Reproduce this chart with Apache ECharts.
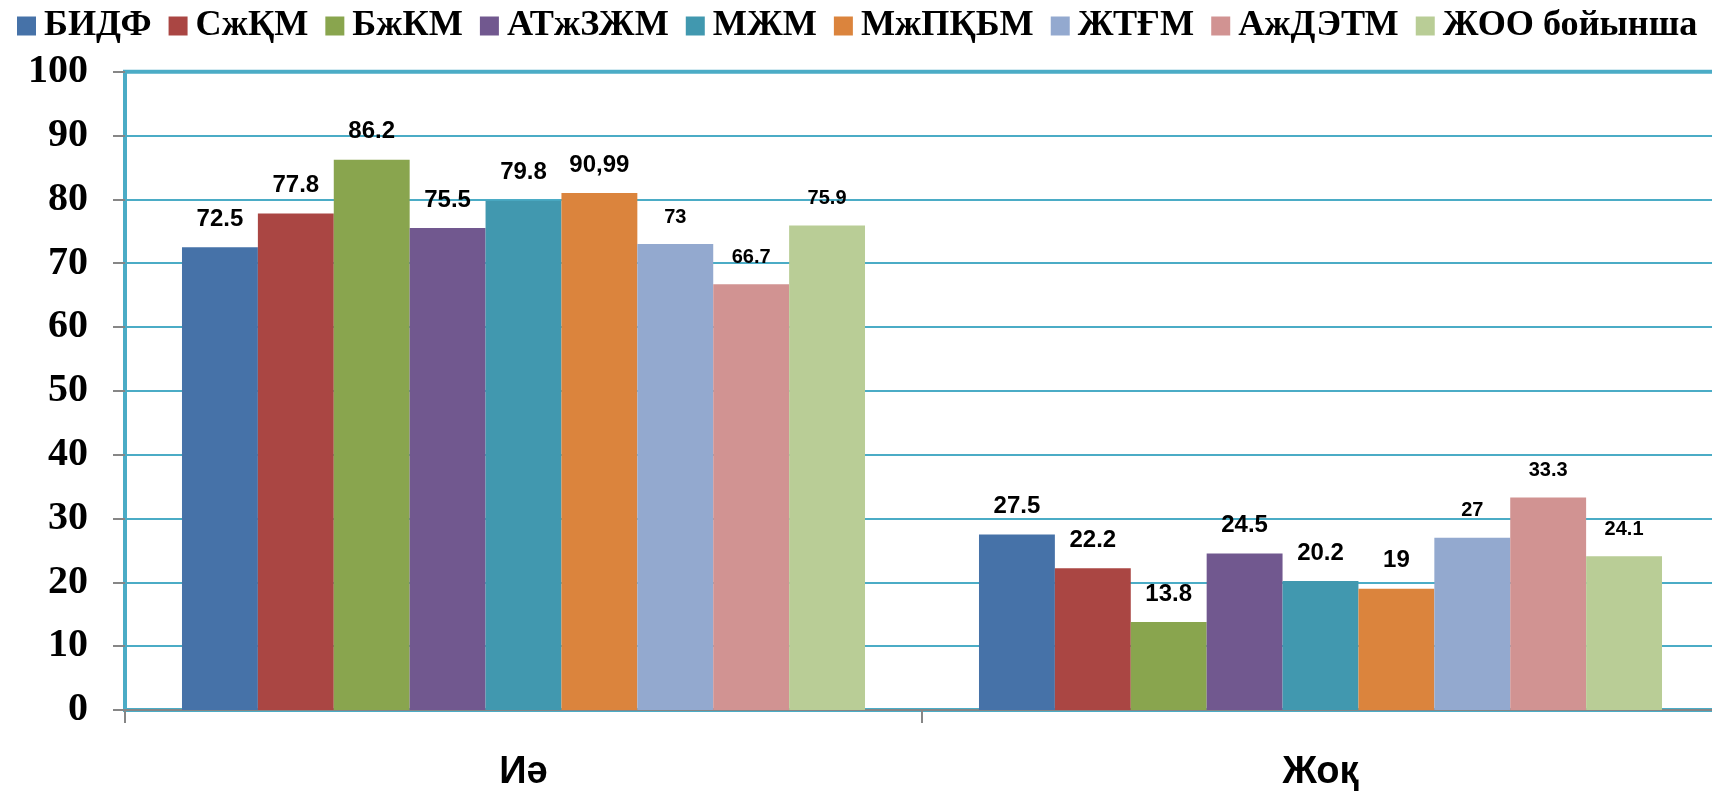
<!DOCTYPE html>
<html>
<head>
<meta charset="utf-8">
<script src="https://cdn.jsdelivr.net/npm/echarts@6/dist/echarts.min.js"></script>
<style>
html,body{margin:0;padding:0;background:#fff;}
#chart{width:1712px;height:793px;}
</style>
</head>
<body>
<div id="chart"></div>
<script>
const categories = ['Иә', 'Жоқ'];
const seriesNames = ['БИДФ', 'СжҚМ', 'БжКМ', 'АТжЗЖМ', 'МЖМ', 'МжПҚБМ', 'ЖТҒМ', 'АжДЭТМ', 'ЖОО бойынша'];
const bidf = [72.5, 27.5];
const szhkm = [77.8, 22.2];
const bzhkm = [86.2, 13.8];
const atzhzzhm = [75.5, 24.5];
const mzhm = [79.8, 20.2];
const mzhpkbm = [80.99, 19];
const zhtgm = [73, 27];
const azhdetm = [66.7, 33.3];
const zhoo = [75.9, 24.1];
const seriesValues = [bidf, szhkm, bzhkm, atzhzzhm, mzhm, mzhpkbm, zhtgm, azhdetm, zhoo];
// label text as printed on the chart
const labelTexts = [
  ['72.5', '27.5'], ['77.8', '22.2'], ['86.2', '13.8'], ['75.5', '24.5'], ['79.8', '20.2'],
  ['90,99', '19'], ['73', '27'], ['66.7', '33.3'], ['75.9', '24.1']
];
const yTicks = [0, 10, 20, 30, 40, 50, 60, 70, 80, 90, 100];

const colors = ['#4672A8', '#AA4643', '#89A54E', '#71588F', '#4198AF', '#DB843D', '#93A9CF', '#D19392', '#B9CD96'];

const chart = echarts.init(document.getElementById('chart'));
const series = seriesNames.map((name, i) => ({
  name: name,
  type: 'bar',
  data: seriesValues[i],
  barGap: '0%',
  barCategoryGap: '14.3%',
  itemStyle: { color: colors[i] },
  label: {
    show: true,
    position: 'top',
    distance: i >= 6 ? 17 : 16,
    color: '#000',
    fontFamily: 'Liberation Sans, Arial, sans-serif',
    fontWeight: 'bold',
    fontSize: i >= 6 ? 20 : 24,
    formatter: p => labelTexts[i][p.dataIndex]
  }
}));

chart.setOption({
  backgroundColor: '#fff',
  color: colors,
  animation: false,
  legend: {
    left: 12,
    top: 3,
    width: 1700,
    itemWidth: 19,
    itemHeight: 19,
    itemGap: 17,
    icon: 'rect',
    textStyle: {
      fontFamily: 'Liberation Serif, Times New Roman, serif',
      fontWeight: 'bold',
      fontSize: 36.2,
      color: '#000',
      padding: [0, 0, 0, 3]
    },
    data: seriesNames
  },
  grid: {
    left: 125,
    top: 71.7,
    width: 1594,
    height: 638.3,
    outerBoundsMode: 'none',
    containLabel: false,
    show: true,
    borderColor: '#4BACC6',
    borderWidth: 4,
    backgroundColor: '#fff'
  },
  xAxis: {
    type: 'category',
    data: categories,
    axisLine: { show: true, lineStyle: { color: '#868686', width: 2 } },
    axisTick: { show: true, length: 13, lineStyle: { color: '#868686', width: 2 } },
    axisLabel: {
      margin: 44,
      color: '#000',
      fontFamily: 'Liberation Sans, Arial, sans-serif',
      fontWeight: 'bold',
      fontSize: 38
    }
  },
  yAxis: {
    type: 'value',
    min: yTicks[0],
    max: yTicks[yTicks.length - 1],
    interval: 10,
    axisLine: { show: true, lineStyle: { color: '#4BACC6', width: 3 } },
    axisTick: { show: true, length: 12, lineStyle: { color: '#868686', width: 2 } },
    splitLine: { show: true, lineStyle: { color: '#4BACC6', width: 2 } },
    axisLabel: {
      margin: 37,
      color: '#000',
      fontFamily: 'Liberation Serif, Times New Roman, serif',
      fontWeight: 'bold',
      fontSize: 40
    }
  },
  series: series
});
</script>
</body>
</html>
